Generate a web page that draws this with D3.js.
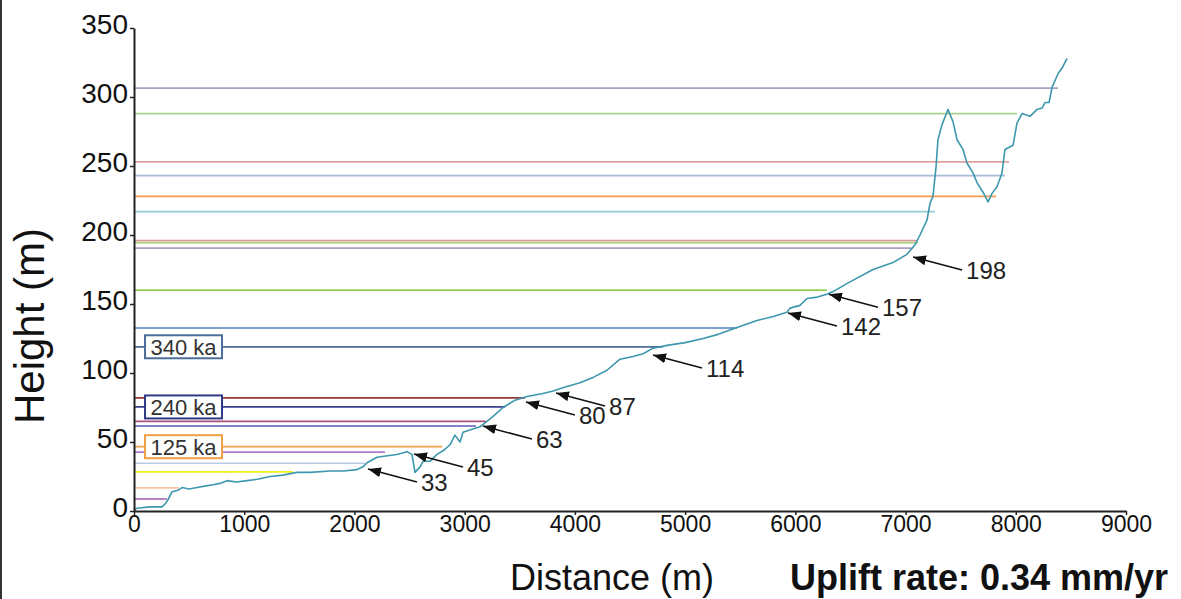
<!DOCTYPE html>
<html>
<head>
<meta charset="utf-8">
<script src="https://cdn.jsdelivr.net/npm/d3@7"></script>
<style>
  body { margin: 0; background: #fff; }
  svg { display: block; font-family: "Liberation Sans", Arial, sans-serif; }
</style>
</head>
<body>
<div class="profileChart"></div>
<script>
// river long profile (distance m, height m)
const profileDist = [0, 27, 145, 254, 281, 308, 345, 399, 436, 500, 572, 640, 717, 780, 844, 930, 1025, 1120, 1234, 1350,
  1479, 1600, 1778, 1900, 2023, 2078, 2114, 2205, 2300, 2386, 2477, 2522, 2549, 2595, 2622, 2686, 2749, 2810, 2867, 2912,
  2958, 2985, 3060, 3139, 3250, 3348, 3450, 3566, 3700, 3802, 3920, 4046, 4170, 4291, 4409, 4527, 4620, 4709, 4836, 5000,
  5163, 5300, 5471, 5652, 5800, 5924, 5952, 6042, 6106, 6200, 6287, 6342, 6496, 6705, 6886, 7013, 7086, 7131, 7195, 7222,
  7249, 7276, 7294, 7331, 7385, 7431, 7467, 7521, 7558, 7612, 7648, 7703, 7748, 7784, 7830, 7875, 7902, 7975, 8011, 8057,
  8129, 8193, 8238, 8265, 8302, 8329, 8384, 8420, 8465];
const profileHeight = [1, 2, 3, 3, 5, 8, 14, 15, 17, 16, 17, 18, 19, 20, 22, 21, 22, 23, 25, 26,
  28, 28, 29, 29, 30, 32, 35, 39, 40, 41, 43, 41, 28, 32, 36, 36, 41, 44, 48, 55,
  50, 57, 59, 61, 68, 75, 80, 83, 85, 87, 90, 93, 97, 102, 110, 112, 114, 118, 120, 122,
  125, 128, 133, 138, 141, 144, 147, 149, 154, 155, 157, 159, 166, 175, 180, 186, 193, 200, 211, 223,
  228, 249, 269, 280, 291, 282, 269, 262, 252, 245, 238, 231, 224, 230, 235, 245, 262, 265, 281, 288,
  286, 291, 292, 296, 296, 307, 317, 321, 328];

// terrace levels (height m) and the distance where each line stops
const terraceHeights = [306.5, 288, 253, 243, 228, 217, 196, 194.5, 190.5, 160, 132.6, 119, 82, 75.4, 65, 61.6, 46.6, 42.7, 34.6, 28.3, 16.7, 8.7];
const terraceEnds = [8383, 8011, 7939, 7902, 7821, 7267, 7113, 7113, 7068, 6287, 5471, 4800, 3547, 3366, 3194, 3103, 2794, 2277, 2096, 1443, 408, 299];
const terraceColors = ["#a7a3c6", "#a9d18e", "#e0a29c", "#a9bcd9", "#f79a52", "#92cbd8", "#d99694", "#a6c97a", "#b0a0c8", "#92d050",
  "#4f81bd", "#4d6d9a", "#953735", "#3b3f8c", "#a8507e", "#5a5ac0", "#f2a24a", "#b47cc6", "#b8cce4", "#eeee10", "#fac4a4", "#a05ab4"];

// age boxes
const boxLabels = ["340 ka", "240 ka", "125 ka"];
const boxHeights = [119, 75.4, 46.6];
const boxColors = ["#4d6d9a", "#2e3a87", "#f0a040"];

// arrow annotations (point on profile)
const noteLabels = ["33", "45", "63", "80", "87", "114", "142", "157", "198"];
const noteDist = [2114, 2531, 3157, 3547, 3820, 4700, 5924, 6296, 7059];
const noteHeight = [30.4, 41.3, 61.6, 79, 85.5, 113, 143.5, 157, 184];

const xTicks = d3.range(0, 9001, 1000);
const yTicks = d3.range(0, 351, 50);

const W = 1181, H = 599;
const margin = { top: 28, right: 55, bottom: 88, left: 134 };

const x = d3.scaleLinear().domain([0, 9000]).range([margin.left, W - margin.right]);
const y = d3.scaleLinear().domain([0, 350]).range([H - margin.bottom, margin.top]);

const svg = d3.select(".profileChart").append("svg")
    .attr("width", W)
    .attr("height", H);

// left frame edge
svg.append("rect").attr("x", 0).attr("y", 0).attr("width", 2).attr("height", H).attr("fill", "#333");

svg.append("defs").append("marker")
    .attr("id", "head")
    .attr("viewBox", "0 0 13 10")
    .attr("refX", 13).attr("refY", 5)
    .attr("markerWidth", 13).attr("markerHeight", 10)
    .attr("markerUnits", "userSpaceOnUse")
    .attr("orient", "auto")
  .append("path").attr("d", "M0,0L13,5L0,10Z").attr("fill", "#111");

// terrace lines
svg.append("g").selectAll("line")
  .data(terraceHeights)
  .join("line")
    .attr("x1", x(0))
    .attr("x2", (d, i) => x(terraceEnds[i]))
    .attr("y1", d => y(d))
    .attr("y2", d => y(d))
    .attr("stroke", (d, i) => terraceColors[i])
    .attr("stroke-width", 1.7);

// profile
const line = d3.line().x(d => x(d[0])).y(d => y(d[1]));
svg.append("path")
    .datum(profileDist.map((d, i) => [d, profileHeight[i]]))
    .attr("fill", "none")
    .attr("stroke", "#3d97ad")
    .attr("stroke-width", 1.6)
    .attr("stroke-linejoin", "round")
    .attr("d", line);

// age boxes
const box = svg.append("g").selectAll("g")
  .data(boxLabels)
  .join("g")
    .attr("transform", (d, i) => "translate(" + x(100) + "," + y(boxHeights[i]) + ")");
box.append("rect")
    .attr("x", 0).attr("y", -11.5)
    .attr("width", 77).attr("height", 23)
    .attr("fill", "#fff")
    .attr("stroke", (d, i) => boxColors[i])
    .attr("stroke-width", 2);
box.append("text")
    .attr("x", 38.5).attr("y", 0).attr("dy", "0.36em")
    .attr("text-anchor", "middle")
    .attr("font-size", 22)
    .attr("fill", "#333")
    .text(d => d);

// annotations
const note = svg.append("g").selectAll("g")
  .data(noteLabels)
  .join("g")
    .attr("transform", (d, i) => "translate(" + x(noteDist[i]) + "," + y(noteHeight[i]) + ")");
note.append("line")
    .attr("x1", 50).attr("y1", 13)
    .attr("x2", 1).attr("y2", 0)
    .attr("stroke", "#111")
    .attr("stroke-width", 1.5)
    .attr("marker-end", "url(#head)");
note.append("text")
    .attr("x", 54).attr("y", 13).attr("dy", "0.36em")
    .attr("font-size", 24)
    .attr("fill", "#222")
    .text(d => d);

// axes
const xAxis = svg.append("g")
    .attr("transform", "translate(0," + y(0) + ")")
    .call(d3.axisBottom(x).tickValues(xTicks).tickFormat(d3.format("d")).tickSize(4).tickPadding(1).tickSizeOuter(0));
const yAxis = svg.append("g")
    .attr("transform", "translate(" + x(0) + ",0)")
    .call(d3.axisLeft(y).tickValues(yTicks).tickFormat(d3.format("d")).tickSize(4).tickPadding(2).tickSizeOuter(0));

[xAxis, yAxis].forEach(g => {
  g.select(".domain").attr("stroke", "#222").attr("stroke-width", 2);
  g.selectAll(".tick line").attr("stroke", "#222").attr("stroke-width", 1.5);
  g.selectAll(".tick text").attr("fill", "#111").attr("font-family", "'Liberation Sans', Arial, sans-serif");
});
xAxis.selectAll(".tick text").attr("font-size", 23);
yAxis.selectAll(".tick text").attr("font-size", 28).attr("dy", "0.2em");

// axis titles
svg.append("text")
    .attr("transform", "translate(44," + 326 + ") rotate(-90)")
    .attr("text-anchor", "middle")
    .attr("font-size", 42)
    .attr("fill", "#111")
    .text("Height (m)");

svg.append("text")
    .attr("x", 612).attr("y", 590)
    .attr("text-anchor", "middle")
    .attr("font-size", 36)
    .attr("fill", "#111")
    .text("Distance (m)");

svg.append("text")
    .attr("x", 790).attr("y", 590)
    .attr("font-size", 36)
    .attr("font-weight", "bold")
    .attr("fill", "#111")
    .text("Uplift rate: 0.34 mm/yr");
</script>
</body>
</html>
